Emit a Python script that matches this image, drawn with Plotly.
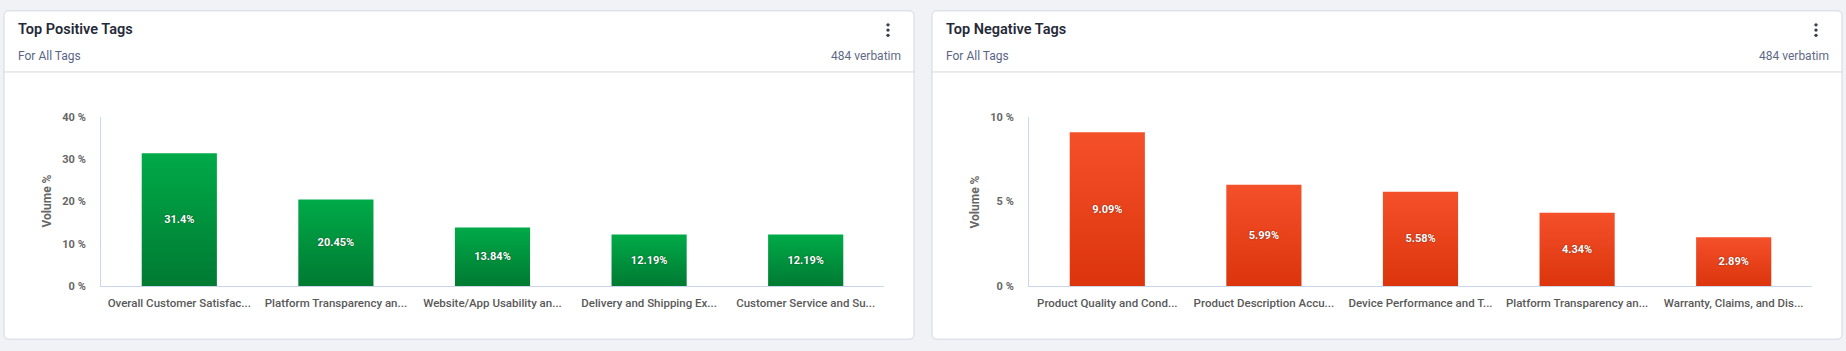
import plotly.graph_objects as go

# ---------------- data ----------------
pos_tags = ["Overall Customer Satisfac...", "Platform Transparency an...",
            "Website/App Usability an...", "Delivery and Shipping Ex...",
            "Customer Service and Su..."]
pos_values = [31.4, 20.45, 13.84, 12.19, 12.19]

neg_tags = ["Product Quality and Cond...", "Product Description Accu...",
            "Device Performance and T...", "Platform Transparency an...",
            "Warranty, Claims, and Dis..."]
neg_values = [9.09, 5.99, 5.58, 4.34, 2.89]

pos_ticks = [0, 10, 20, 30, 40]
pos_tick_text = ["0 %", "10 %", "20 %", "30 %", "40 %"]
neg_ticks = [0, 5, 10]
neg_tick_text = ["0 %", "5 %", "10 %"]

cards = [
    {"title": "Top Positive Tags", "sub": "For All Tags", "count": "484 verbatim"},
    {"title": "Top Negative Tags", "sub": "For All Tags", "count": "484 verbatim"},
]

# ---------------- layout constants ----------------
W, H = 1846, 351
FONT = "Roboto"
GREEN_MID = "#00923d"
RED_MID = "#e8431b"


def px_x(p):
    return p / W


def px_y(p):
    return 1 - p / H


fig = go.Figure()

bar_font = dict(family=FONT, size=11, color="white", weight="bold",
                shadow="0px 0px 1.5px rgba(0,0,0,0.55)")

fig.add_trace(go.Bar(
    x=pos_tags, y=pos_values, xaxis="x", yaxis="y",
    marker=dict(color=GREEN_MID, line=dict(width=0)),
    text=[f"{v}%" for v in pos_values], texttemplate="%{text}",
    textposition="inside", insidetextanchor="middle",
    textangle=0, constraintext="none", textfont=bar_font,
    hoverinfo="x+y", showlegend=False,
))
fig.add_trace(go.Bar(
    x=neg_tags, y=neg_values, xaxis="x2", yaxis="y2",
    marker=dict(color=RED_MID, line=dict(width=0)),
    text=[f"{v}%" for v in neg_values], texttemplate="%{text}",
    textposition="inside", insidetextanchor="middle",
    textangle=0, constraintext="none", textfont=bar_font,
    hoverinfo="x+y", showlegend=False,
))

axis_line = "#ccd6eb"
tick_font = dict(family=FONT, size=11, color="#666666", weight="bold")
xtick_font = dict(family=FONT, size=11.5, color="#595959", weight=500)

y_dom = [px_y(291), px_y(115)]
card_offset = 928
plot_left, plot_right = 101, 884

fig.update_layout(
    width=W, height=H,
    margin=dict(l=0, r=0, t=0, b=0),
    paper_bgcolor="#f1f2f6", plot_bgcolor="rgba(0,0,0,0)",
    bargap=0.52,
    font=dict(family=FONT),
    xaxis=dict(domain=[px_x(plot_left), px_x(plot_right)], anchor="y",
               showline=True, linecolor=axis_line, linewidth=1,
               showgrid=False, zeroline=False, ticks="", tickfont=xtick_font,
               ticklabelstandoff=6, fixedrange=True),
    yaxis=dict(domain=y_dom, anchor="x", range=[0, 40],
               tickmode="array", tickvals=pos_ticks, ticktext=pos_tick_text,
               showline=True, linecolor=axis_line, linewidth=1,
               showgrid=False, zeroline=False, ticks="", tickfont=tick_font,
               ticklabelstandoff=12, fixedrange=True),
    xaxis2=dict(domain=[px_x(plot_left + card_offset), px_x(plot_right + card_offset)],
                anchor="y2",
                showline=True, linecolor=axis_line, linewidth=1,
                showgrid=False, zeroline=False, ticks="", tickfont=xtick_font,
                ticklabelstandoff=6, fixedrange=True),
    yaxis2=dict(domain=y_dom, anchor="x2", range=[0, 10],
                tickmode="array", tickvals=neg_ticks, ticktext=neg_tick_text,
                showline=True, linecolor=axis_line, linewidth=1,
                showgrid=False, zeroline=False, ticks="", tickfont=tick_font,
                ticklabelstandoff=12, fixedrange=True),
)

shapes = []
annotations = []
for i, c in enumerate(cards):
    ox = i * card_offset
    x0, x1, y0, y1, r = 4 + ox, 914 + ox, 5, 346, 5
    # rounded card (pixel -> paper)
    path = (f"M {px_x(x0 + r)} {px_y(y0)} L {px_x(x1 - r)} {px_y(y0)} "
            f"Q {px_x(x1)} {px_y(y0)} {px_x(x1)} {px_y(y0 + r)} "
            f"L {px_x(x1)} {px_y(y1 - r)} Q {px_x(x1)} {px_y(y1)} {px_x(x1 - r)} {px_y(y1)} "
            f"L {px_x(x0 + r)} {px_y(y1)} Q {px_x(x0)} {px_y(y1)} {px_x(x0)} {px_y(y1 - r)} "
            f"L {px_x(x0)} {px_y(y0 + r)} Q {px_x(x0)} {px_y(y0)} {px_x(x0 + r)} {px_y(y0)} Z")
    shapes.append(dict(type="path", xref="paper", yref="paper", path=path,
                       fillcolor="white", line=dict(color="#d3d7e2", width=1),
                       layer="below"))
    # separator
    shapes.append(dict(type="line", xref="paper", yref="paper",
                       x0=px_x(x0), x1=px_x(x1), y0=px_y(68.5), y1=px_y(68.5),
                       line=dict(color="#d3d7e2", width=1), layer="below"))
    # kebab dots
    for dy in (19.5, 25, 30.5):
        cx = 888 + ox
        shapes.append(dict(type="circle", xref="paper", yref="paper",
                           x0=px_x(cx - 1.7), x1=px_x(cx + 1.7),
                           y0=px_y(dy - 1.7), y1=px_y(dy + 1.7),
                           fillcolor="#3a3f4e", line=dict(width=0)))
    annotations.append(dict(text=c["title"], xref="paper", yref="paper",
                            x=px_x(16 + ox), y=px_y(24), xanchor="left", yanchor="middle",
                            showarrow=False,
                            font=dict(family=FONT, size=14.5, color="#262a38", weight=600)))
    annotations.append(dict(text=c["sub"], xref="paper", yref="paper",
                            x=px_x(16 + ox), y=px_y(52), xanchor="left", yanchor="middle",
                            showarrow=False,
                            font=dict(family=FONT, size=12, color="#5b6485")))
    annotations.append(dict(text=c["count"], xref="paper", yref="paper",
                            x=px_x(903 + ox), y=px_y(52), xanchor="right", yanchor="middle",
                            showarrow=False,
                            font=dict(family=FONT, size=12, color="#5f6984")))
    annotations.append(dict(text="Volume %", xref="paper", yref="paper",
                            x=px_x(47 + ox), y=px_y(203), xanchor="center", yanchor="middle",
                            textangle=-90, showarrow=False,
                            font=dict(family=FONT, size=12, color="#666666", weight="bold")))

fig.update_layout(shapes=shapes, annotations=annotations)

post_script = """
var gd = document.getElementById('{plot_id}');
function applyGrad(){
  var svg = gd.querySelector('svg.main-svg');
  if(!svg) return;
  var ns = 'http://www.w3.org/2000/svg';
  var defs = svg.querySelector('defs');
  if(!defs){ defs = document.createElementNS(ns,'defs'); svg.insertBefore(defs, svg.firstChild); }
  function mk(id, c0, c1){
    if(document.getElementById(id)) return;
    var g = document.createElementNS(ns,'linearGradient');
    g.setAttribute('id', id); g.setAttribute('x1','0'); g.setAttribute('y1','0');
    g.setAttribute('x2','0'); g.setAttribute('y2','1');
    var s0 = document.createElementNS(ns,'stop'); s0.setAttribute('offset','0'); s0.setAttribute('stop-color', c0);
    var s1 = document.createElementNS(ns,'stop'); s1.setAttribute('offset','1'); s1.setAttribute('stop-color', c1);
    g.appendChild(s0); g.appendChild(s1); defs.appendChild(g);
  }
  mk('gradGreen', '#00aa48', '#007a32');
  mk('gradRed', '#f4502a', '#dc350d');
  gd.querySelectorAll('.barlayer .trace').forEach(function(t, i){
    var sub = t.closest('.subplot');
    var isRed = sub && sub.classList.contains('x2y2');
    t.querySelectorAll('.point path').forEach(function(p){
      p.style.fill = isRed ? 'url(#gradRed)' : 'url(#gradGreen)';
    });
  });
}
applyGrad();
gd.on('plotly_afterplot', applyGrad);
"""

fig.write_html("out.html", post_script=post_script, config={"displayModeBar": False})
